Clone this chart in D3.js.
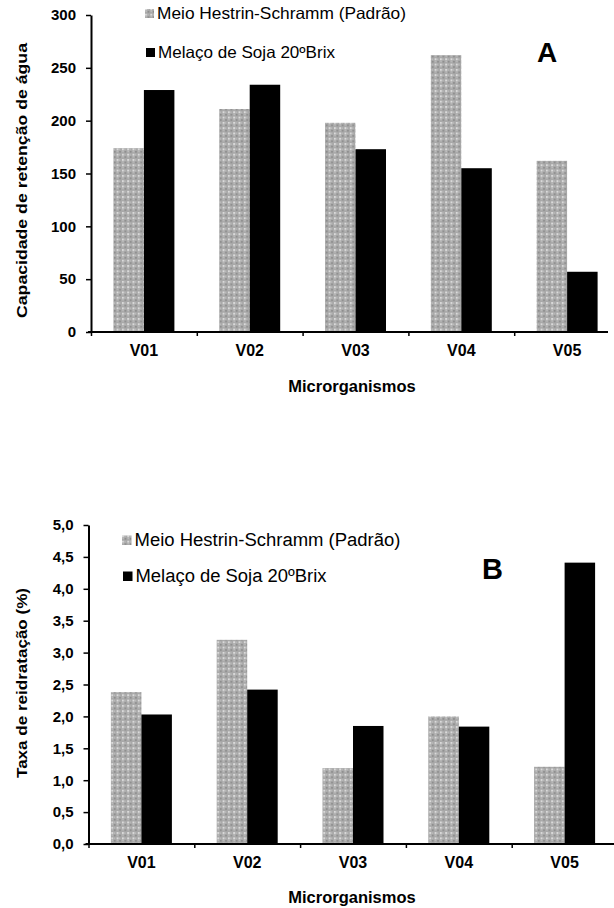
<!DOCTYPE html>
<html>
<head>
<meta charset="utf-8">
<script src="https://cdn.jsdelivr.net/npm/d3@7"></script>
<style>
  body { margin: 0; background: #fff; }
  svg text { font-family: "Liberation Sans", Arial, sans-serif; fill: #000; }
</style>
</head>
<body>
<svg width="614" height="908"></svg>
<script>
// data
var categories = ["V01", "V02", "V03", "V04", "V05"];
var seriesNames = ["Meio Hestrin-Schramm (Padrão)", "Melaço de Soja 20ºBrix"];

var retencaoPadrao = [174, 211, 198, 262, 162];
var retencaoMelaco = [229, 234, 173, 155, 57];
var retencaoTicks = [0, 50, 100, 150, 200, 250, 300];

var reidratacaoPadrao = [2.38, 3.2, 1.19, 2.0, 1.21];
var reidratacaoMelaco = [2.03, 2.42, 1.85, 1.84, 4.41];
var reidratacaoTicks = [0, 0.5, 1, 1.5, 2, 2.5, 3, 3.5, 4, 4.5, 5];

var svg = d3.select("svg");

// gray cross-hatch used for the "Padrão" series
var defs = svg.append("defs");
var pat = defs.append("pattern")
    .attr("id", "hatch")
    .attr("patternUnits", "userSpaceOnUse")
    .attr("width", 5.3).attr("height", 5.3);
pat.append("rect").attr("width", 5.3).attr("height", 5.3).attr("fill", "#a8a8a8");
pat.append("rect").attr("x", 0).attr("y", 0).attr("width", 2).attr("height", 2).attr("fill", "#dadada");
pat.append("rect").attr("x", 2.65).attr("y", 2.65).attr("width", 1.6).attr("height", 1.6).attr("fill", "#8c8c8c");
pat.append("rect").attr("x", 2.65).attr("y", 0.5).attr("width", 1).attr("height", 1).attr("fill", "#c6c6c6");
pat.append("rect").attr("x", 0.5).attr("y", 2.65).attr("width", 1).attr("height", 1).attr("fill", "#c6c6c6");

var fills = ["url(#hatch)", "#000"];

function drawPanel(cfg) {
    var y = d3.scaleLinear().domain(cfg.yDomain).range([cfg.y0, cfg.y1]);
    var step = 105.8;
    var x = d3.scaleBand().domain(categories).range([cfg.x0, cfg.x0 + step * categories.length]);
    var edges = d3.scaleLinear().domain([0, categories.length]).range([cfg.x0, cfg.x0 + step * categories.length]);
    var barW = 30.5;

    var g = svg.append("g");

    // bars
    [cfg.a, cfg.b].forEach(function(vals, s) {
        g.selectAll(".bar" + s)
            .data(vals)
            .enter().append("rect")
            .attr("x", function(d, i) { return x(categories[i]) + x.bandwidth() / 2 - barW + s * barW; })
            .attr("y", function(d) { return y(d); })
            .attr("width", barW)
            .attr("height", function(d) { return y(0) - y(d); })
            .attr("fill", fills[s]);
    });

    // y axis
    var ya = g.append("g")
        .attr("transform", "translate(" + cfg.x0 + ",0)")
        .call(d3.axisLeft(y).tickValues(cfg.ticks).tickSize(5).tickSizeOuter(0).tickPadding(10).tickFormat(cfg.fmt));
    ya.select(".domain").attr("stroke-width", 2);
    ya.selectAll(".tick line").attr("stroke-width", 1.5);
    ya.selectAll("text").style("font-size", "15px").style("font-weight", "bold");

    // x axis: ticks at category boundaries
    var xa = g.append("g")
        .attr("transform", "translate(0," + cfg.y0 + ")")
        .call(d3.axisBottom(edges).tickValues(d3.range(categories.length + 1)).tickSize(4).tickSizeOuter(0).tickFormat(""));
    xa.select(".domain").attr("d", "M" + (cfg.x0 - 3) + ",0H" + cfg.xEnd).attr("stroke-width", 2);
    xa.selectAll(".tick line").attr("stroke-width", 1.5);

    g.selectAll(".cat")
        .data(categories)
        .enter().append("text")
        .attr("x", function(d) { return x(d) + x.bandwidth() / 2; })
        .attr("y", cfg.catY)
        .attr("text-anchor", "middle")
        .style("font-size", "16px")
        .style("font-weight", "bold")
        .text(function(d) { return d; });

    g.append("text")
        .attr("x", 352)
        .attr("y", cfg.xTitleY)
        .attr("text-anchor", "middle")
        .style("font-size", "16.5px")
        .style("font-weight", "bold")
        .text("Microrganismos");

    g.append("text")
        .attr("transform", "translate(27," + cfg.yTitleC + ") rotate(-90)")
        .attr("text-anchor", "middle")
        .attr("textLength", cfg.yTitleLen)
        .attr("lengthAdjust", "spacingAndGlyphs")
        .style("font-size", "15px")
        .style("font-weight", "bold")
        .text(cfg.yTitle);

    // legend
    seriesNames.forEach(function(name, i) {
        var lg = g.append("g")
            .attr("transform", "translate(" + cfg.leg[i][0] + "," + cfg.leg[i][1] + ")");
        lg.append("rect")
            .attr("x", 0).attr("y", -cfg.sq - 1)
            .attr("width", cfg.sq).attr("height", cfg.sq)
            .attr("fill", fills[i]);
        lg.append("text")
            .attr("x", cfg.sq + 3)
            .attr("y", 0)
            .attr("textLength", cfg.legLen[i])
            .attr("lengthAdjust", "spacingAndGlyphs")
            .style("font-size", cfg.legFont + "px")
            .text(name);
    });

    g.append("text")
        .attr("x", cfg.letter[0])
        .attr("y", cfg.letter[1])
        .style("font-size", cfg.letter[3] + "px")
        .style("font-weight", "bold")
        .text(cfg.letter[2]);
}

drawPanel({
    a: retencaoPadrao, b: retencaoMelaco,
    yDomain: [0, 300], ticks: retencaoTicks, fmt: d3.format("d"),
    x0: 91, xEnd: 608, y0: 332, y1: 15,
    catY: 356, xTitleY: 392,
    yTitle: "Capacidade de retenção de água", yTitleC: 180.5, yTitleLen: 275,
    leg: [[145, 19], [146, 58]], sq: 9, legFont: 16.5, legLen: [249, 177],
    letter: [537, 62, "A", 28]
});

drawPanel({
    a: reidratacaoPadrao, b: reidratacaoMelaco,
    yDomain: [0, 5], ticks: reidratacaoTicks, fmt: function(d) { return d3.format(".1f")(d).replace(".", ","); },
    x0: 88.5, xEnd: 614, y0: 844, y1: 525,
    catY: 868, xTitleY: 903,
    yTitle: "Taxa de reidratação (%)", yTitleC: 683, yTitleLen: 190,
    leg: [[122, 546], [123, 582]], sq: 9.5, legFont: 18, legLen: [266, 191],
    letter: [482, 579, "B", 29]
});
</script>
</body>
</html>
